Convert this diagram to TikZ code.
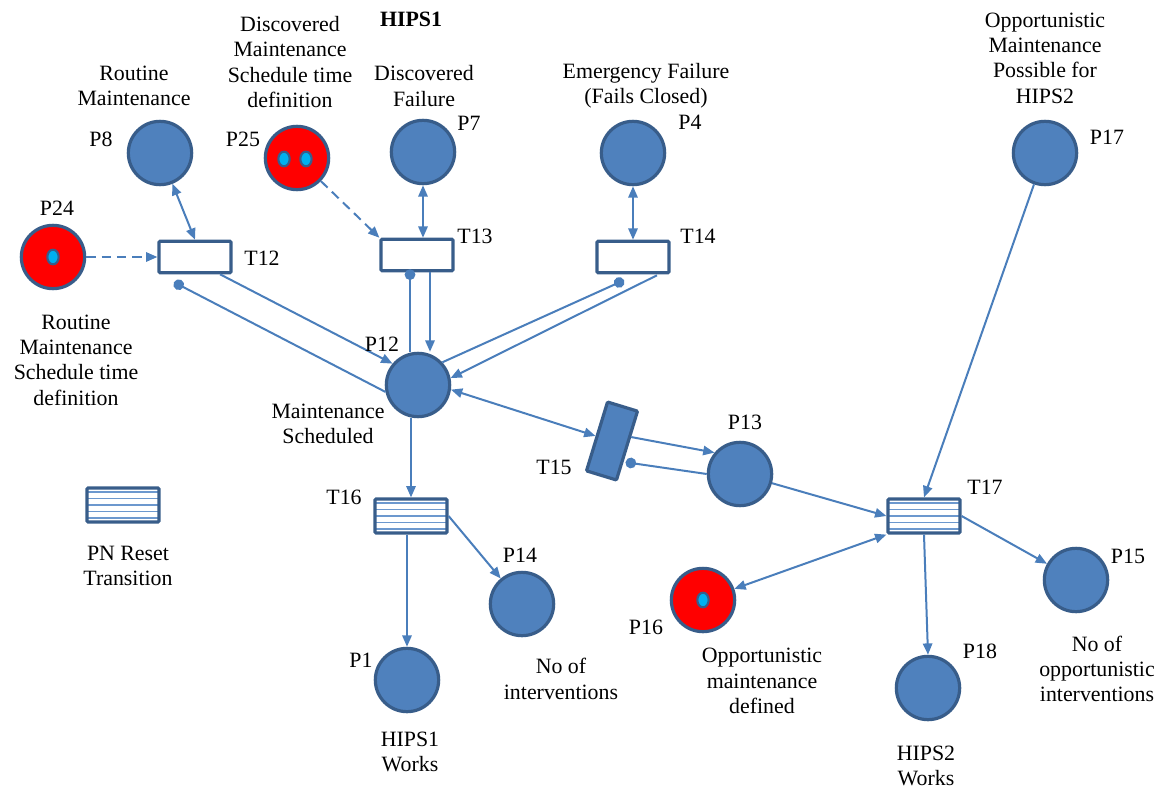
\documentclass[tikz,border=0pt]{standalone}
\usepackage{fontspec}
\setmainfont{Liberation Serif}
\usetikzlibrary{arrows.meta,calc,shapes.geometric}
\definecolor{pfill}{HTML}{4F81BD}
\definecolor{pborder}{HTML}{385D8A}
\definecolor{acol}{HTML}{4A7EBB}
\definecolor{tokfill}{HTML}{00B0F0}
\definecolor{rline}{HTML}{6C98CE}
\tikzset{
  place/.style={circle, draw=pborder, fill=pfill, line width=2.4pt,
    minimum size=47.5pt, inner sep=0pt},
  redplace/.style={place, fill=red},
  token/.style={ellipse, draw=pborder, fill=tokfill, line width=1.6pt,
    minimum width=8.5pt, minimum height=11pt, inner sep=0pt},
  trans/.style={rectangle, draw=pborder, fill=white, line width=2.4pt,
    rounded corners=0.8pt, minimum width=54pt, minimum height=23.5pt, inner sep=0pt},
  resettrans/.style={trans, minimum height=25.5pt,
    path picture={
      \foreach \f in {0.12,0.31,0.5,0.69,0.88}
        \draw[rline, line width=1.1pt]
          ($(path picture bounding box.south west)!\f!(path picture bounding box.north west)$) --
          ($(path picture bounding box.south east)!\f!(path picture bounding box.north east)$);
    }},
  arc/.style={draw=acol, line width=1.5pt, -{Triangle[length=8.5pt,width=7pt]}},
  darc/.style={draw=acol, line width=1.5pt,
    {Triangle[length=8.5pt,width=7pt]}-{Triangle[length=8.5pt,width=7pt]}},
  inh/.style={draw=acol, line width=1.5pt, -{Circle[length=8pt]}},
  dasharc/.style={arc, dash pattern=on 7pt off 4.5pt},
  lbl/.style={font=\fontsize{16.4}{19}\selectfont, align=center, inner sep=0pt}
}
\begin{document}
\begin{tikzpicture}[x=0.75pt, y=-0.75pt]
\useasboundingbox (0,0) rectangle (1161,789);

% places
\node[place] (P8) at (160,153) {};
\node[redplace] (P25) at (297,158) {};
\node[token] (P25a) at (284,159) {};
\node[token] (P25b) at (306,159) {};
\node[redplace] (P24) at (53,257) {};
\node[token] (P24a) at (53,257) {};
\node[place] (P7) at (423,152) {};
\node[place] (P4) at (633,153) {};
\node[place] (P17) at (1045,153) {};
\node[place] (P12) at (418,385) {};
\node[place] (P13) at (740,474) {};
\node[place] (P14) at (522,604) {};
\node[place] (P1) at (407,680) {};
\node[redplace] (P16) at (703,600) {};
\node[token] (P16a) at (703,600) {};
\node[place] (P15) at (1076,580) {};
\node[place] (P18) at (928,688) {};

% transitions
\node[trans] (T12) at (195,257) {};
\node[trans] (T13) at (417,255) {};
\node[trans] (T14) at (633,257) {};
\node[trans, fill=pfill, rotate=-17, minimum width=23.5pt, minimum height=54pt] (T15) at (612,441) {};
\node[resettrans] (T16) at (411,516) {};
\node[resettrans] (T17) at (924,516) {};
\node[resettrans] (LEG) at (123,505) {};

% arc end points on transition borders
\coordinate (t12o) at ($(T12.south)+(25,0)$);
\coordinate (t12i) at ($(T12.south)+(-21,8)$);
\coordinate (t13o) at ($(T13.south)+(13,0)$);
\coordinate (t13i) at ($(T13.south)+(-7,-3)$);
\coordinate (t14o) at ($(T14.south)+(24,1)$);
\coordinate (t14i) at ($(T14.south)+(-9,6)$);
\coordinate (t15o) at ($(T15.east)!0.25!(T15.north east)$);
\coordinate (t15i) at ($(T15.east)!0.45!(T15.south east)+(2,0)$);

% arcs
\draw[darc] (P8) -- (T12.north);
\draw[dasharc] (P24) -- (T12.west);
\draw[dasharc] (P25) -- (T13.north west);
\draw[darc] (P7.south) -- (P7.south |- T13.north);
\draw[darc] (P4.south) -- (P4.south |- T14.north);
\draw[arc] (t12o) -- (P12.140);
\draw[inh] (P12.192) -- (t12i);
\draw[arc] (t13o) -- (t13o |- P12.north);
\draw[inh] (t13i |- P12.north) -- (t13i);
\draw[arc] (t14o) -- (P12.12);
\draw[inh] (P12.43) -- (t14i);
\draw[darc] (P12.352) -- (T15.west);
\draw[arc] (t15o) -- (P13.140);
\draw[inh] (P13.west) -- (t15i);
\draw[arc] (P13) -- (T17.west);
\draw[arc] (P17) -- (T17.north);
\draw[darc] (P16) -- (T17.south west);
\draw[arc] (T17.east) -- (P15);
\draw[arc] (T17.south) -- (P18.north);
\draw[arc] (T16.north |- P12.south) -- (T16.north);
\draw[arc] (P1.north |- T16.south) -- (P1.north);
\draw[arc] (T16.east) -- (P14);

% identifiers
\node[lbl] (lP8) at (101,139) {P8};
\node[lbl] (lP25) at (243,139) {P25};
\node[lbl] (lP24) at (57,208) {P24};
\node[lbl] (lP7) at (469,123) {P7};
\node[lbl] (lP4) at (690,122) {P4};
\node[lbl] (lP17) at (1107,137) {P17};
\node[lbl] (lP12) at (382,344) {P12};
\node[lbl] (lP13) at (745,422) {P13};
\node[lbl] (lP14) at (520,555) {P14};
\node[lbl] (lP1) at (361,660) {P1};
\node[lbl] (lP16) at (646,627) {P16};
\node[lbl] (lP15) at (1128,556) {P15};
\node[lbl] (lP18) at (980,651) {P18};
\node[lbl] (lT12) at (262,258) {T12};
\node[lbl] (lT13) at (475,236) {T13};
\node[lbl] (lT14) at (698,236) {T14};
\node[lbl] (lT15) at (554,467) {T15};
\node[lbl] (lT16) at (344,497) {T16};
\node[lbl] (lT17) at (985,487) {T17};

% descriptions
\node[lbl] (hips1) at (411,19) {\textbf{HIPS1}};
\node[lbl] (dRM) at (134,86) {Routine\\Maintenance};
\node[lbl] (dDMS) at (290,62) {Discovered\\Maintenance\\Schedule time\\definition};
\node[lbl] (dDF) at (424,86) {Discovered\\Failure};
\node[lbl] (dEF) at (646,86) {Emergency Failure\\(Fails Closed)};
\node[lbl] (dOMP) at (1045,58) {Opportunistic\\Maintenance\\Possible for\\HIPS2};
\node[lbl] (dRMS) at (76,360) {Routine\\Maintenance\\Schedule time\\definition};
\node[lbl] (dMS) at (328,424) {Maintenance\\Scheduled};
\node[lbl] (dLEG) at (128,566) {PN Reset\\Transition};
\node[lbl] (dNI) at (561,679) {No of\\interventions};
\node[lbl] (dH1) at (410,752) {HIPS1\\Works};
\node[lbl] (dOMD) at (762,681) {Opportunistic\\maintenance\\defined};
\node[lbl] (dH2) at (926,766) {HIPS2\\Works};
\node[lbl] (dNOI) at (1097,669) {No of\\opportunistic\\interventions};
\end{tikzpicture}
\end{document}
